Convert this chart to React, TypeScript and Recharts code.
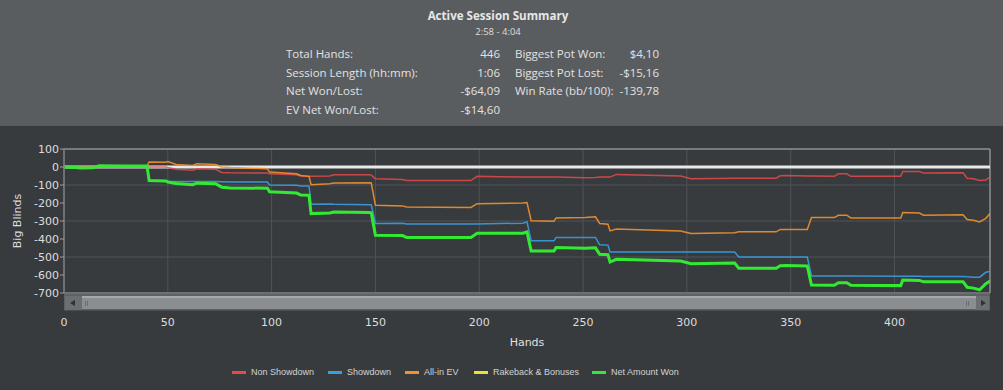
import React from 'react';
import { LineChart, Line, XAxis, YAxis, CartesianGrid, ReferenceLine } from 'recharts';

// ---------- data ----------
const hands = [0, 4, 8, 14, 17, 28, 40, 41, 49, 50, 54, 62, 64, 73, 76, 80, 98, 99, 112, 114, 118, 119, 128, 130, 147, 148, 150, 163, 165, 196, 199, 221, 223, 225, 236, 237, 251, 256, 258, 262, 263, 266, 297, 302, 323, 325, 343, 345, 348, 358, 360, 371, 373, 377, 379, 403, 404, 412, 414, 433, 435, 438, 441, 444, 446];

const nonShowdown = [0, 0, 0, 0, 0, 0, 0, 0, 0, -3, -12, -18, -10, -13, -30, -32, -34, -38, -43, -50, -52, -52, -50, -43, -43, -45, -65, -69, -75, -75, -52, -56, -56, -56, -56, -56, -60, -58, -56, -56, -56, -41, -50, -65, -62, -62, -62, -48, -47, -50, -50, -52, -38, -38, -52, -52, -25, -25, -34, -32, -62, -65, -75, -72, -56];

const showdown = [0, -2, -5, -4, 7, 6, 5, -75, -78, -80, -80, -80, -80, -80, -82, -84, -84, -100, -102, -105, -105, -207, -205, -207, -210, -210, -314, -312, -316, -316, -316, -312, -305, -410, -410, -391, -391, -391, -432, -434, -472, -472, -472, -472, -472, -500, -500, -500, -500, -500, -605, -605, -605, -605, -605, -607, -607, -607, -608, -608, -610, -612, -612, -585, -580];

const allInEV = [0, -2, -5, -4, 7, 6, 5, 28, 27, 30, 14, 8, 18, 14, 0, -3, -10, -28, -38, -47, -52, -98, -93, -89, -87, -89, -212, -216, -222, -225, -204, -200, -197, -298, -301, -283, -280, -277, -314, -318, -355, -345, -355, -369, -365, -360, -360, -347, -347, -347, -281, -281, -268, -268, -283, -283, -253, -256, -268, -265, -292, -296, -305, -285, -259];

const netAmountWon = [0, -2, -5, -4, 7, 6, 5, -75, -78, -83, -92, -98, -90, -93, -112, -116, -118, -138, -145, -155, -157, -259, -255, -250, -253, -255, -379, -381, -391, -391, -368, -368, -361, -466, -466, -447, -451, -449, -485, -487, -528, -513, -522, -537, -534, -562, -562, -548, -547, -550, -655, -657, -643, -643, -657, -659, -628, -630, -638, -637, -668, -673, -682, -648, -634];

const rakebackHands = [0, 446];
const rakebackValues = [0, 0];

const xTicks = [0, 50, 100, 150, 200, 250, 300, 350, 400];
const yTicks = [100, 0, -100, -200, -300, -400, -500, -600, -700];

const summaryTitle = 'Active Session Summary';
const summaryRange = '2:58 - 4:04';
const summaryLeftLabels = ['Total Hands:', 'Session Length (hh:mm):', 'Net Won/Lost:', 'EV Net Won/Lost:'];
const summaryLeftValues = ['446', '1:06', '-$64,09', '-$14,60'];
const summaryRightLabels = ['Biggest Pot Won:', 'Biggest Pot Lost:', 'Win Rate (bb/100):'];
const summaryRightValues = ['$4,10', '-$15,16', '-139,78'];

const legendNames = ['Non Showdown', 'Showdown', 'All-in EV', 'Rakeback & Bonuses', 'Net Amount Won'];
const legendColors = ['#e84a4a', '#3a9de0', '#f0922e', '#eee032', '#33ea33'];

const chartData = hands.map((h, i) => ({
  hand: h,
  nonShowdown: nonShowdown[i],
  showdown: showdown[i],
  allInEV: allInEV[i],
  netAmountWon: netAmountWon[i],
}));
const rakebackData = rakebackHands.map((h, i) => ({ hand: h, rakeback: rakebackValues[i] }));

// ---------- layout ----------
const HEADER_H = 126;
const legendLefts = [232, 328, 405, 474, 592];
const rowTops = [45.7, 64.5, 83.3, 102];

const headerFont = "'Open Sans', 'Noto Sans', sans-serif";
const axisFont = "'DejaVu Sans', sans-serif";

const YLabel = (props: any) => {
  const vb = props.viewBox || {};
  const cy = (vb.y || 0) + (vb.height || 0) / 2;
  return (
    <text
      x={17}
      y={cy}
      transform={`rotate(-90, 17, ${cy})`}
      textAnchor="middle"
      dominantBaseline="central"
      fill="#dcdcdc"
      fontFamily={axisFont}
      fontSize={11}
    >
      Big Blinds
    </text>
  );
};

export default function App() {
  return (
    <div style={{ position: 'absolute', left: 0, top: 0, width: 1003, height: 390, background: '#383b3e', overflow: 'hidden' }}>
      {/* header */}
      <div style={{ position: 'absolute', left: 0, top: 0, width: 1003, height: HEADER_H, background: '#5a5d60', fontFamily: headerFont, color: '#e2e2e2' }}>
        <div style={{ position: 'absolute', left: 0, width: 996, top: 7.5, textAlign: 'center', fontSize: 11.6, lineHeight: '16px', fontWeight: 700, color: '#e6e6e6' }}>{summaryTitle}</div>
        <div style={{ position: 'absolute', left: 0, width: 996, top: 25, textAlign: 'center', fontSize: 9.5, lineHeight: '13px', color: '#dddddd' }}>{summaryRange}</div>
        {summaryLeftLabels.map((t, i) => (
          <div key={'ll' + i} style={{ position: 'absolute', left: 286, top: rowTops[i], fontSize: 11.5, lineHeight: '16px', whiteSpace: 'nowrap' }}>{t}</div>
        ))}
        {summaryLeftValues.map((t, i) => (
          <div key={'lv' + i} style={{ position: 'absolute', left: 400, width: 100, top: rowTops[i], textAlign: 'right', fontSize: 11.5, lineHeight: '16px', whiteSpace: 'nowrap' }}>{t}</div>
        ))}
        {summaryRightLabels.map((t, i) => (
          <div key={'rl' + i} style={{ position: 'absolute', left: 515, top: rowTops[i], fontSize: 11.5, lineHeight: '16px', whiteSpace: 'nowrap' }}>{t}</div>
        ))}
        {summaryRightValues.map((t, i) => (
          <div key={'rv' + i} style={{ position: 'absolute', left: 559, width: 100, top: rowTops[i], textAlign: 'right', fontSize: 11.5, lineHeight: '16px', whiteSpace: 'nowrap' }}>{t}</div>
        ))}
      </div>

      {/* chart */}
      <div style={{ position: 'absolute', left: 0, top: HEADER_H }}>
        <LineChart width={1003} height={264} data={chartData} margin={{ top: 23, right: 13, bottom: 0, left: 0 }}>
          <CartesianGrid stroke="#4f5256" strokeWidth={1} verticalPoints={undefined} />
          <XAxis
            dataKey="hand"
            type="number"
            domain={[0, 446]}
            ticks={xTicks}
            allowDataOverflow
            height={97}
            tickSize={0}
            tickMargin={25}
            tickLine={false}
            axisLine={{ stroke: '#7c7f82', strokeWidth: 1.5 }}
            tick={{ fill: '#dddddd', fontFamily: axisFont, fontSize: 11 }}
            label={{ value: 'Hands', position: 'insideBottom', offset: 44, fill: '#e0e0e0', fontFamily: axisFont, fontSize: 11 }}
          />
          <YAxis
            type="number"
            domain={[-700, 100]}
            ticks={yTicks}
            allowDataOverflow
            width={64}
            tickSize={4}
            tickMargin={1}
            tickLine={{ stroke: '#9a9da0' }}
            axisLine={{ stroke: '#7c7f82', strokeWidth: 1.5 }}
            tick={{ fill: '#dddddd', fontFamily: axisFont, fontSize: 11 }}
            label={<YLabel />}
          />
          <ReferenceLine y={100} stroke="#8a8d90" strokeWidth={1.5} />
          <ReferenceLine x={446} stroke="#8a8d90" strokeWidth={1.5} />
          <Line data={rakebackData} dataKey="rakeback" type="linear" stroke={legendColors[3]} strokeWidth={1.5} dot={false} isAnimationActive={false} />
          <ReferenceLine y={0} stroke="#e8e8e8" strokeWidth={3} />
          <Line dataKey="nonShowdown" type="linear" stroke={legendColors[0]} strokeOpacity={0.85} strokeWidth={1.5} dot={false} isAnimationActive={false} />
          <Line dataKey="allInEV" type="linear" stroke={legendColors[2]} strokeOpacity={0.9} strokeWidth={1.5} dot={false} isAnimationActive={false} />
          <Line dataKey="showdown" type="linear" stroke={legendColors[1]} strokeOpacity={0.9} strokeWidth={1.5} dot={false} isAnimationActive={false} />
          <Line dataKey="netAmountWon" type="linear" stroke={legendColors[4]} strokeWidth={3} dot={false} isAnimationActive={false} />
        </LineChart>
      </div>

      {/* scrollbar */}
      <div style={{ position: 'absolute', left: 64, top: 294, width: 926, height: 17, background: '#5e6164', borderBottom: '1px solid #4a4d50', boxSizing: 'border-box' }} />
      <div style={{ position: 'absolute', left: 65, top: 296, width: 17, height: 14, background: '#6c6f72' }} />
      <div style={{ position: 'absolute', left: 70, top: 299.5, width: 0, height: 0, borderTop: '3.5px solid transparent', borderBottom: '3.5px solid transparent', borderRight: '5px solid #2e3133' }} />
      <div style={{ position: 'absolute', left: 82, top: 296, width: 894, height: 13, background: '#8b8e91', borderTop: '2px solid #a6a9ab', boxSizing: 'border-box' }} />
      <div style={{ position: 'absolute', left: 85, top: 301, width: 1, height: 5, background: '#6a6d70' }} />
      <div style={{ position: 'absolute', left: 87, top: 301, width: 1, height: 5, background: '#6a6d70' }} />
      <div style={{ position: 'absolute', left: 966, top: 301, width: 1, height: 5, background: '#6a6d70' }} />
      <div style={{ position: 'absolute', left: 968, top: 301, width: 1, height: 5, background: '#6a6d70' }} />
      <div style={{ position: 'absolute', left: 976, top: 296, width: 13, height: 14, background: '#6c6f72' }} />
      <div style={{ position: 'absolute', left: 981, top: 299.5, width: 0, height: 0, borderTop: '3.5px solid transparent', borderBottom: '3.5px solid transparent', borderLeft: '5px solid #2e3133' }} />

      {/* legend */}
      {legendNames.map((n, i) => (
        <div key={n} style={{ position: 'absolute', left: legendLefts[i], top: 365, height: 14, display: 'flex', alignItems: 'center', whiteSpace: 'nowrap' }}>
          <div style={{ width: 14, height: 3, background: legendColors[i], marginRight: 5 }} />
          <span style={{ fontFamily: "'Liberation Sans', Arial, sans-serif", fontSize: 9, color: '#d2d2d2' }}>{n}</span>
        </div>
      ))}
    </div>
  );
}
